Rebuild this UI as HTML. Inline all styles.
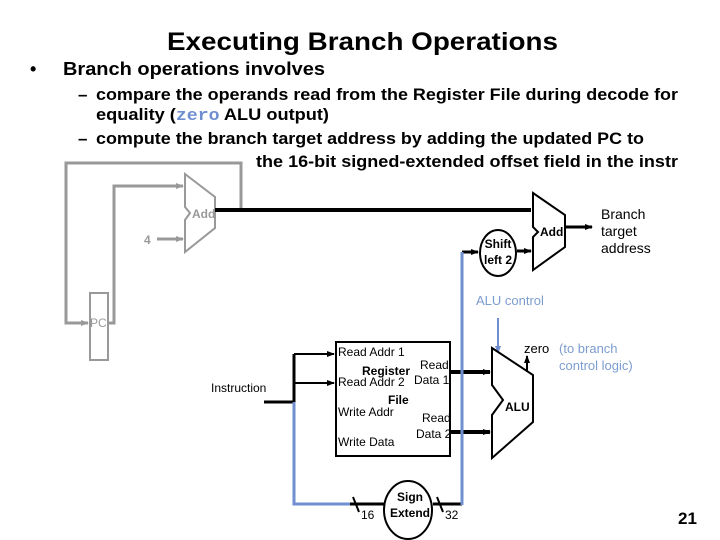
<!DOCTYPE html>
<html><head><meta charset="utf-8"><style>
body{margin:0;background:#fff;}
svg{display:block;font-family:"Liberation Sans",sans-serif;}
</style></head><body>
<svg width="720" height="540" viewBox="0 0 720 540" xmlns="http://www.w3.org/2000/svg">
<defs>
<marker id="ab" markerWidth="8" markerHeight="8" refX="7" refY="4" orient="auto" markerUnits="userSpaceOnUse"><path d="M0,1 L8,4 L0,7z" fill="#000"/></marker>
<marker id="ag" markerWidth="8" markerHeight="8" refX="7" refY="4" orient="auto" markerUnits="userSpaceOnUse"><path d="M0,1 L8,4 L0,7z" fill="#999"/></marker>
<marker id="abl" markerWidth="8" markerHeight="8" refX="7" refY="4" orient="auto" markerUnits="userSpaceOnUse"><path d="M0,1 L8,4 L0,7z" fill="#6f8fd0"/></marker>
</defs>
<!-- text -->
<g font-weight="bold" fill="#000">
<text x="167" y="50" font-size="25" textLength="391" lengthAdjust="spacingAndGlyphs">Executing Branch Operations</text>
<text x="30" y="75" font-size="18">•</text>
<text x="63" y="75" font-size="18" textLength="262" lengthAdjust="spacingAndGlyphs">Branch operations involves</text>
<text x="78" y="100" font-size="17">–</text>
<text x="96" y="100" font-size="17" textLength="582" lengthAdjust="spacingAndGlyphs">compare the operands read from the Register File during decode for</text>
<text x="96" y="120" font-size="17" textLength="233" lengthAdjust="spacingAndGlyphs">equality (<tspan font-family="Liberation Mono,monospace" fill="#6f8fd0">zero</tspan> ALU output)</text>
<text x="78" y="144" font-size="17">–</text>
<text x="96" y="144" font-size="17" textLength="548" lengthAdjust="spacingAndGlyphs">compute the branch target address by adding the updated PC to</text>
<text x="256" y="167" font-size="17" textLength="422" lengthAdjust="spacingAndGlyphs">the 16-bit signed-extended offset field in the instr</text>
<text x="678" y="524" font-size="17">21</text>
</g>
<!-- gray PC/add loop -->
<g stroke="#999" stroke-width="3" fill="none">
<polyline points="241,210 241,163 66,163 66,323 88,323" marker-end="url(#ag)"/>
<polyline points="108,323 114,323 114,186 183,186" marker-end="url(#ag)"/>
<line x1="157" y1="239" x2="183" y2="239" marker-end="url(#ag)"/>
<rect x="90" y="293" width="18" height="67" stroke-width="2"/>
<polygon points="185,174 215,197 215,228 185,252 185,220 190,213 185,207" stroke-width="2"/>
</g>
<g fill="#999" font-size="12">
<text x="192" y="218" font-weight="bold" fill="#999">Add</text>
<text x="144" y="244" font-weight="bold">4</text>
<text x="90" y="327">PC</text>
</g>
<!-- black main line -->
<line x1="215" y1="210" x2="531" y2="210" stroke="#000" stroke-width="4"/>
<polygon points="533,193 565,215 565,247 533,270 533,237 538,232 533,227" fill="#fff" stroke="#000" stroke-width="2"/>
<text x="540" y="236" font-size="12" font-weight="bold">Add</text>
<line x1="565" y1="227" x2="592" y2="227" stroke="#000" stroke-width="3" marker-end="url(#ab)"/>
<g font-size="14" fill="#000"><text x="601" y="219">Branch</text><text x="601" y="236">target</text><text x="601" y="253">address</text></g>
<ellipse cx="498" cy="253" rx="18" ry="23" fill="#fff" stroke="#000" stroke-width="2"/>
<g font-size="12" font-weight="bold" text-anchor="middle"><text x="498" y="248">Shift</text><text x="498" y="264">left 2</text></g>
<line x1="517" y1="251" x2="531" y2="251" stroke="#000" stroke-width="3" marker-end="url(#ab)"/>
<line x1="462" y1="252" x2="478" y2="252" stroke="#000" stroke-width="3" marker-end="url(#ab)"/>
<!-- ALU -->
<text x="476" y="305" font-size="13" fill="#7c9cd0">ALU control</text>
<line x1="498" y1="318" x2="498" y2="353" stroke="#6f8fd0" stroke-width="2" marker-end="url(#abl)"/>
<polygon points="492,348 533,375 533,422 492,458 492,415 503,400 492,385" fill="#fff" stroke="#000" stroke-width="2"/>
<text x="505" y="411" font-size="12" font-weight="bold">ALU</text>
<line x1="527" y1="372" x2="527" y2="356" stroke="#000" stroke-width="2" marker-end="url(#ab)"/>
<text x="524" y="353" font-size="13">zero</text>
<g font-size="13" fill="#7c9cd0"><text x="559" y="353">(to branch</text><text x="559" y="370">control logic)</text></g>
<!-- register file -->
<rect x="336" y="342" width="114" height="114" fill="#fff" stroke="#000" stroke-width="2"/>
<g font-size="12">
<text x="338" y="356">Read Addr 1</text>
<text x="362" y="375" font-weight="bold">Register</text>
<text x="420" y="369">Read</text>
<text x="338" y="386">Read Addr 2</text>
<text x="414" y="384">Data 1</text>
<text x="388" y="404" font-weight="bold">File</text>
<text x="338" y="416">Write Addr</text>
<text x="422" y="422">Read</text>
<text x="416" y="438">Data 2</text>
<text x="338" y="446">Write Data</text>
<text x="211" y="392">Instruction</text>
</g>
<line x1="264" y1="402" x2="294" y2="402" stroke="#000" stroke-width="3"/>
<line x1="294" y1="354" x2="294" y2="402" stroke="#000" stroke-width="3"/>
<line x1="294" y1="354" x2="334" y2="354" stroke="#000" stroke-width="2" marker-end="url(#ab)"/>
<line x1="294" y1="383" x2="334" y2="383" stroke="#000" stroke-width="2" marker-end="url(#ab)"/>
<polyline points="294,402 294,504 350,504" fill="none" stroke="#6f8fd0" stroke-width="3"/>
<line x1="350" y1="504" x2="384" y2="504" stroke="#000" stroke-width="3"/>
<line x1="433" y1="504" x2="462" y2="504" stroke="#000" stroke-width="3"/>
<line x1="450" y1="372" x2="490" y2="372" stroke="#000" stroke-width="4" marker-end="url(#ab)"/>
<line x1="450" y1="432" x2="490" y2="432" stroke="#000" stroke-width="4" marker-end="url(#ab)"/>
<line x1="462" y1="252" x2="462" y2="505" stroke="#6f8fd0" stroke-width="3"/>
<line x1="353" y1="497" x2="359" y2="512" stroke="#000" stroke-width="2"/>
<line x1="437" y1="497" x2="443" y2="512" stroke="#000" stroke-width="2"/>
<ellipse cx="408" cy="510" rx="24" ry="29" fill="#fff" stroke="#000" stroke-width="2"/>
<g font-size="12" font-weight="bold" text-anchor="middle"><text x="410" y="501">Sign</text><text x="410" y="517">Extend</text></g>
<g font-size="12"><text x="361" y="519">16</text><text x="445" y="519">32</text></g>
</svg>
</body></html>
